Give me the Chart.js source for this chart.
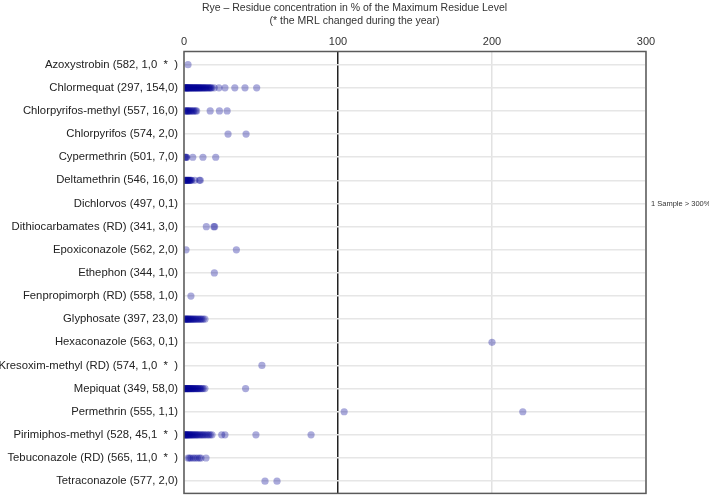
<!DOCTYPE html>
<html>
<head>
<meta charset="utf-8">
<script src="https://cdn.jsdelivr.net/npm/chart.js@4/dist/chart.umd.min.js"></script>
<style>
  html, body { margin: 0; padding: 0; background: #fff; }
  #wrap { width: 709px; height: 497px; }
</style>
</head>
<body>
<div id="wrap"><canvas id="ryeChart"></canvas></div>
<script>
// categories (substance, samples, detections > LOQ, exceedances)
const categories = [
    'Azoxystrobin (582, 1,0  *  )',
    'Chlormequat (297, 154,0)',
    'Chlorpyrifos-methyl (557, 16,0)',
    'Chlorpyrifos (574, 2,0)',
    'Cypermethrin (501, 7,0)',
    'Deltamethrin (546, 16,0)',
    'Dichlorvos (497, 0,1)',
    'Dithiocarbamates (RD) (341, 3,0)',
    'Epoxiconazole (562, 2,0)',
    'Ethephon (344, 1,0)',
    'Fenpropimorph (RD) (558, 1,0)',
    'Glyphosate (397, 23,0)',
    'Hexaconazole (563, 0,1)',
    'Kresoxim-methyl (RD) (574, 1,0  *  )',
    'Mepiquat (349, 58,0)',
    'Permethrin (555, 1,1)',
    'Pirimiphos-methyl (528, 45,1  *  )',
    'Tebuconazole (RD) (565, 11,0  *  )',
    'Tetraconazole (577, 2,0)'
];

// residue values in % of MRL
const azoxystrobin = [2.6];
const chlormequat = [0.3, 0.6, 0.8, 1.0, 1.2, 1.5, 1.7, 2.0, 2.2, 2.5, 2.8, 3.0, 3.3, 3.6, 4.0, 4.3, 4.6, 5.0,
    5.3, 5.7, 6.0, 6.4, 6.8, 7.1, 7.5, 7.9, 8.2, 8.6, 9.0, 9.4, 9.8, 10.2, 10.6, 11.0, 11.5, 12.0, 12.4,
    12.9, 13.4, 13.9, 14.4, 15.0, 15.6, 16.2, 16.8, 17.4, 18.0, 19.6, 22.7, 26.6, 33.0, 39.6, 47.2];
const chlorpyrifosMethyl = [0.5, 1.0, 1.5, 2.0, 2.5, 3.0, 3.6, 4.2, 5.0, 5.8, 6.5, 7.5, 8.2, 17.0, 23.0, 28.0];
const chlorpyrifos = [28.6, 40.3];
const cypermethrin = [0.6, 1.0, 1.4, 1.8, 5.7, 12.3, 20.6];
const deltamethrin = [0.4, 0.8, 1.1, 1.4, 1.8, 2.1, 2.5, 2.8, 3.2, 3.6, 4.0, 4.5, 5.0, 7.0, 10.0, 10.6];
const dichlorvos = [];
const dithiocarbamates = [14.5, 19.4, 19.9];
const epoxiconazole = [1.3, 34.0];
const ethephon = [19.7];
const fenpropimorph = [4.5];
const glyphosate = [0.3, 0.7, 1.0, 1.4, 1.8, 2.2, 2.6, 3.0, 3.5, 4.0, 4.5, 5.0, 5.6, 6.2, 6.8, 7.5, 8.2,
    9.0, 9.8, 10.6, 11.4, 12.4, 13.6];
const hexaconazole = [200.0];
const kresoximMethyl = [50.6];
const mepiquat = [0.2, 0.5, 0.8, 1.0, 1.3, 1.6, 1.9, 2.2, 2.5, 2.8, 3.1, 3.4, 3.8, 4.1, 4.5, 4.9, 5.3,
    5.7, 6.1, 6.5, 7.0, 7.5, 8.0, 8.5, 9.0, 9.6, 10.2, 10.8, 11.6, 12.4, 13.6, 40.0];
const permethrin = [104.0, 220.0];
const pirimiphosMethyl = [0.2, 0.5, 0.8, 1.1, 1.4, 1.7, 2.0, 2.4, 2.8, 3.2, 3.6, 4.0, 4.5, 5.0, 5.5,
    6.0, 6.6, 7.2, 7.8, 8.4, 9.0, 9.8, 10.6, 11.4, 12.2, 13.0, 14.0, 15.0, 16.0, 17.0, 18.2,
    24.5, 26.6, 46.7, 82.5];
const tebuconazole = [2.6, 3.5, 4.5, 6.0, 7.2, 8.6, 10.0, 11.0, 14.3];
const tetraconazole = [52.6, 60.4];

const residues = [azoxystrobin, chlormequat, chlorpyrifosMethyl, chlorpyrifos, cypermethrin, deltamethrin,
    dichlorvos, dithiocarbamates, epoxiconazole, ethephon, fenpropimorph, glyphosate, hexaconazole,
    kresoximMethyl, mepiquat, permethrin, pirimiphosMethyl, tebuconazole, tetraconazole];

const xTicks = [0, 100, 200, 300];
const overflowNotes = [{ row: 6, text: '1 Sample > 300%' }];

const points = [];
residues.forEach(function(vals, row) {
    vals.forEach(function(v) { points.push({ x: v, y: row }); });
});

const fontFamily = "'Liberation Sans', Arial, sans-serif";

// frame around the plot + the "> 300%" notes
const framePlugin = {
    id: 'frame',
    afterDraw: function(chart) {
        const ctx = chart.ctx;
        const a = chart.chartArea;
        ctx.save();
        ctx.strokeStyle = '#5a5a5a';
        ctx.lineWidth = 1.5;
        ctx.strokeRect(a.left, a.top, a.right - a.left, a.bottom - a.top);
        ctx.fillStyle = '#333';
        ctx.font = "7.5px " + fontFamily;
        ctx.textBaseline = 'middle';
        overflowNotes.forEach(function(n) {
            ctx.fillText(n.text, a.right + 5, chart.scales.y.getPixelForValue(n.row));
        });
        ctx.restore();
    }
};

new Chart(document.getElementById('ryeChart').getContext('2d'), {
    type: 'scatter',
    data: {
        datasets: [{
            data: points,
            backgroundColor: 'rgba(0, 0, 150, 0.33)',
            borderWidth: 0,
            pointRadius: 3.6,
            pointHoverRadius: 3.6
        }]
    },
    options: {
        responsive: true,
        maintainAspectRatio: false,
        animation: false,
        layout: { padding: { left: 0, right: 0, top: 0, bottom: 1 } },
        plugins: {
            legend: { display: false },
            tooltip: { enabled: false },
            title: {
                display: true,
                text: ['Rye \u2013 Residue concentration in % of the Maximum Residue Level',
                       '(* the MRL changed during the year)'],
                color: '#333',
                font: { family: fontFamily, size: 10.5, weight: 'normal', lineHeight: 1.3 },
                padding: { top: 1, bottom: 4 }
            }
        },
        scales: {
            x: {
                position: 'top',
                min: 0,
                max: 300,
                afterBuildTicks: function(s) { s.ticks = xTicks.map(function(v) { return { value: v }; }); },
                ticks: { color: '#333', font: { family: fontFamily, size: 11 }, padding: 3 },
                border: { display: false },
                grid: {
                    drawTicks: false,
                    color: function(c) { return c.tick && c.tick.value === 100 ? '#222' : '#e2e2e2'; },
                    lineWidth: 1.5
                }
            },
            y: {
                reverse: true,
                min: -0.57,
                max: 18.53,
                afterBuildTicks: function(s) { s.ticks = categories.map(function(c, i) { return { value: i }; }); },
                afterFit: function(s) {
                    s.width = 184;
                    s.paddingTop = 0;
                    s.paddingBottom = 0;
                },
                ticks: {
                    color: '#222',
                    font: { family: fontFamily, size: 11.3 },
                    padding: 6,
                    callback: function(v) { return categories[v]; }
                },
                border: { display: false },
                grid: { drawTicks: false, color: '#e6e6e6', lineWidth: 1.5 }
            },
            // empty right-hand axis, reserves the margin for the "> 300%" note
            yRight: {
                position: 'right',
                display: true,
                afterFit: function(s) {
                    s.width = 63;
                    s.paddingTop = 0;
                    s.paddingBottom = 0;
                },
                ticks: { display: false },
                grid: { display: false },
                border: { display: false }
            }
        }
    },
    plugins: [framePlugin]
});
</script>
</body>
</html>
